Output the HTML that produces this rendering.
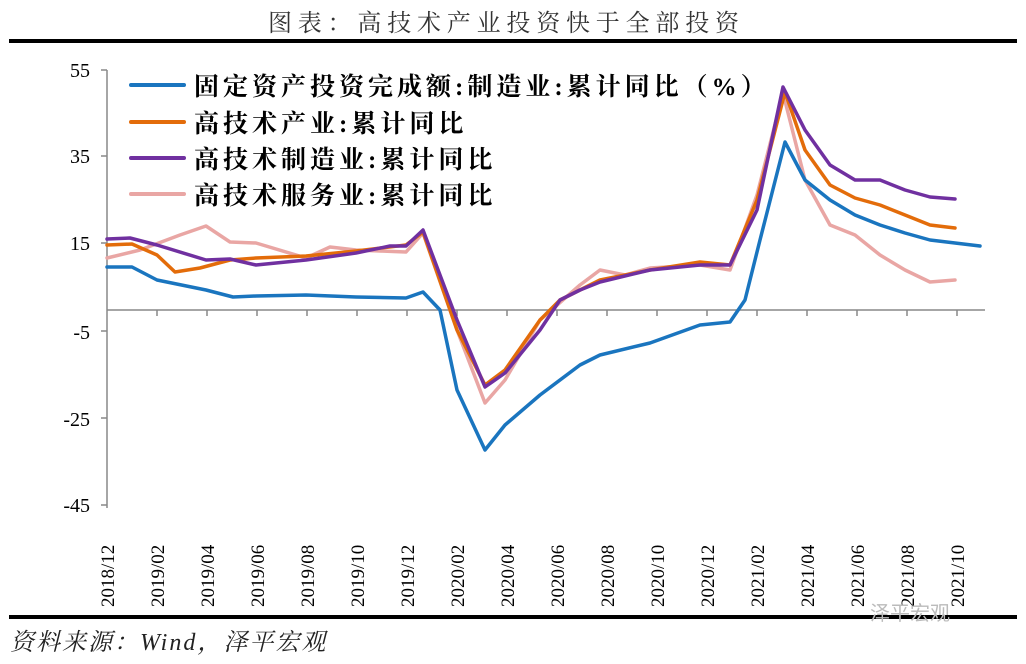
<!DOCTYPE html>
<html><head><meta charset="utf-8"><style>
body{margin:0;background:#fff;width:1026px;height:659px;overflow:hidden}
</style></head><body>
<svg width="1026" height="659" xmlns="http://www.w3.org/2000/svg" style="font-family:'Liberation Serif','Noto Serif CJK SC',serif">
<text x="268" y="31" font-size="24" fill="#333" letter-spacing="5.8" font-family="'Liberation Serif','Noto Serif CJK SC',serif">图表：高技术产业投资快于全部投资</text>
<rect x="9" y="39" width="1008" height="4" fill="#000"/>
<rect x="9" y="615" width="1008" height="4" fill="#000"/>
<g stroke="#888" stroke-width="1.5" fill="none">
<line x1="107" y1="70" x2="107" y2="508"/>
<line x1="101" y1="70" x2="107" y2="70"/><line x1="101" y1="156" x2="107" y2="156"/>
<line x1="101" y1="243" x2="107" y2="243"/><line x1="101" y1="331" x2="107" y2="331"/>
<line x1="101" y1="418" x2="107" y2="418"/><line x1="101" y1="505" x2="107" y2="505"/>
<line x1="107" y1="310" x2="985" y2="310"/>
<path d="M157 310v6M207 310v6M257 310v6M307 310v6M357 310v6M407 310v6M457 310v6M507 310v6M557 310v6M607 310v6M657 310v6M707 310v6M757 310v6M807 310v6M857 310v6M907 310v6M957 310v6"/>
</g>
<g font-size="20" text-anchor="end" fill="#000">
<text x="90" y="77">55</text><text x="90" y="163">35</text><text x="90" y="250">15</text>
<text x="90" y="339">-5</text><text x="90" y="426">-25</text><text x="90" y="512">-45</text>
</g>
<g font-size="19" fill="#000" font-family="'Liberation Serif',serif">
<text transform="translate(114,607) rotate(-90)">2018/12</text>
<text transform="translate(164,607) rotate(-90)">2019/02</text>
<text transform="translate(214,607) rotate(-90)">2019/04</text>
<text transform="translate(264,607) rotate(-90)">2019/06</text>
<text transform="translate(314,607) rotate(-90)">2019/08</text>
<text transform="translate(364,607) rotate(-90)">2019/10</text>
<text transform="translate(414,607) rotate(-90)">2019/12</text>
<text transform="translate(464,607) rotate(-90)">2020/02</text>
<text transform="translate(514,607) rotate(-90)">2020/04</text>
<text transform="translate(564,607) rotate(-90)">2020/06</text>
<text transform="translate(614,607) rotate(-90)">2020/08</text>
<text transform="translate(664,607) rotate(-90)">2020/10</text>
<text transform="translate(714,607) rotate(-90)">2020/12</text>
<text transform="translate(764,607) rotate(-90)">2021/02</text>
<text transform="translate(814,607) rotate(-90)">2021/04</text>
<text transform="translate(864,607) rotate(-90)">2021/06</text>
<text transform="translate(914,607) rotate(-90)">2021/08</text>
<text transform="translate(964,607) rotate(-90)">2021/10</text>
</g>
<g fill="none" stroke-width="3.5" stroke-linejoin="round" stroke-linecap="round">
<polyline stroke="#E9A6A4" points="107,258 140,250 180,235 206,226 230,242 256,243 306,258 330,247 356,250 380,251 406,252 423,233 457,330 485,403 505,380 540,320 580,285 600,270 625,275 650,268 700,265 730,270 757,195 783,93 805,180 830,225 855,235 880,255 905,270 930,282 955,280"/>
<polyline stroke="#E36C0A" points="107,245 132,244 157,255 175,272 200,268 230,260 256,258 306,256 356,251 406,245 423,232 457,330 485,385 505,370 540,320 560,300 580,290 600,280 650,270 700,262 730,265 757,200 785,92 805,150 830,185 855,198 880,205 905,215 930,225 955,228"/>
<polyline stroke="#7030A0" points="107,239 130,238 157,245 206,260 230,259 256,265 306,260 356,253 390,246 406,246 423,230 457,320 485,387 505,373 540,330 560,300 580,290 600,282 650,270 700,265 730,265 757,210 783,87 805,130 830,165 855,180 880,180 905,190 930,197 955,199"/>
<polyline stroke="#1A75BF" points="107,267 132,267 157,280 206,290 233,297 256,296 306,295 356,297 406,298 423,292 440,310 457,390 485,450 505,425 540,395 580,365 600,355 650,343 700,325 730,322 745,300 760,240 785,142 805,180 830,200 855,215 880,225 905,233 930,240 955,243 980,246"/>
</g>
<g stroke-width="4" stroke-linecap="round">
<line x1="131" y1="85" x2="184" y2="85" stroke="#1A75BF"/>
<line x1="131" y1="122" x2="184" y2="122" stroke="#E36C0A"/>
<line x1="131" y1="158" x2="184" y2="158" stroke="#7030A0"/>
<line x1="131" y1="194" x2="184" y2="194" stroke="#E9A6A4"/>
</g>
<g font-size="25" font-weight="bold" fill="#000" font-family="'Liberation Serif','Noto Serif CJK SC',serif" letter-spacing="4">
<text x="194" y="95">固定资产投资完成额:制造业:累计同比（%）</text>
<text x="194" y="132">高技术产业:累计同比</text>
<text x="194" y="168">高技术制造业:累计同比</text>
<text x="194" y="204">高技术服务业:累计同比</text>
</g>
<text x="870" y="620" font-size="20" fill="#bbb" font-family="'Liberation Sans','Noto Sans CJK SC',sans-serif">泽平宏观</text>
<text x="10" y="650" font-size="24" font-style="italic" fill="#222" letter-spacing="2" font-family="'Liberation Serif','Noto Serif CJK SC',serif">资料来源：Wind，泽平宏观</text>
</svg>
</body></html>
